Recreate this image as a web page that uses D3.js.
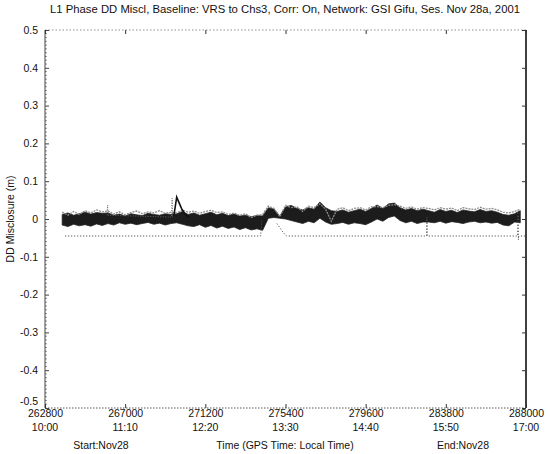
<!DOCTYPE html>
<html><head><meta charset="utf-8">
<script src="https://cdn.jsdelivr.net/npm/d3@7"></script>
<style>body{margin:0;background:#fff}svg{display:block}text{font-family:"Liberation Sans",Arial,sans-serif;fill:#111}</style>
</head><body>
<script>
const title = "L1 Phase DD Miscl, Baseline: VRS to Chs3, Corr: On, Network: GSI Gifu, Ses. Nov 28a, 2001";
const xTicks = [262800, 267000, 271200, 275400, 279600, 283800, 288000];
const xTimeLabels = ["10:00", "11:10", "12:20", "13:30", "14:40", "15:50", "17:00"];
const yTicks = [0.5, 0.4, 0.3, 0.2, 0.1, 0, -0.1, -0.2, -0.3, -0.4, -0.5];
const yTickLabels = ["0.5", "0.4", "0.3", "0.2", "0.1", "0", "-0.1", "-0.2", "-0.3", "-0.4", "-0.5"];
// sample times (s) of the main misclosure band
const bandTimes = [263700,264000,264300,264600,264900,265200,265500,265800,266100,266400,266700,267000,267300,267600,267900,268200,268500,268800,269100,269400,269700,270000,270300,270600,270900,271200,271500,271800,272100,272400,272700,273000,273300,273600,273900,274200,274500,274800,275100,275400,275700,276000,276300,276600,276900,277200,277500,277800,278100,278400,278700,279000,279300,279600,279900,280200,280500,280800,281100,281400,281700,282000,282300,282600,282900,283200,283500,283800,284100,284400,284700,285000,285300,285600,285900,286200,286500,286800,287100,287400,287700];
const bandHigh = [0.012,0.016,0.010,0.014,0.018,0.013,0.017,0.015,0.016,0.010,0.013,0.008,0.014,0.011,0.009,0.015,0.012,0.010,0.014,0.012,0.014,0.020,0.012,0.016,0.010,0.014,0.018,0.011,0.015,0.009,0.013,0.008,0.010,0.006,0.009,0.008,0.030,0.026,0.008,0.032,0.036,0.028,0.024,0.030,0.026,0.045,0.030,0.022,0.020,0.024,0.018,0.022,0.026,0.020,0.028,0.037,0.028,0.040,0.042,0.030,0.024,0.028,0.022,0.026,0.022,0.018,0.025,0.020,0.023,0.017,0.024,0.021,0.019,0.025,0.020,0.022,0.018,0.012,0.010,0.014,0.022];
const bandLow = [-0.016,-0.020,-0.014,-0.018,-0.015,-0.019,-0.013,-0.017,-0.012,-0.016,-0.010,-0.014,-0.011,-0.015,-0.012,-0.009,-0.014,-0.011,-0.016,-0.012,-0.010,-0.014,-0.018,-0.020,-0.015,-0.022,-0.017,-0.024,-0.019,-0.025,-0.021,-0.028,-0.023,-0.029,-0.026,-0.030,0.002,0.004,0.002,0.000,-0.004,-0.008,-0.012,-0.006,-0.010,0.002,-0.008,-0.014,-0.012,-0.009,-0.014,-0.010,-0.012,-0.015,-0.008,0.000,-0.006,0.004,0.008,-0.004,-0.010,-0.006,-0.012,-0.008,-0.008,-0.010,-0.006,-0.011,-0.007,-0.009,-0.012,-0.008,-0.006,-0.010,-0.008,-0.011,-0.009,-0.016,-0.018,-0.008,-0.010];
const grayVals = [0.018,0.010,0.020,0.012,0.022,0.016,0.024,0.019,0.021,0.013,0.019,0.011,0.017,0.021,0.014,0.019,0.016,0.022,0.015,0.018,0.016,0.024,0.018,0.021,0.015,0.020,0.023,0.017,0.019,0.012,0.016,0.010,0.014,0.004,0.010,0.012,0.034,0.028,0.006,0.036,0.030,0.032,0.020,0.034,0.030,0.040,0.026,-0.006,0.026,0.030,0.022,0.028,0.030,0.024,0.032,0.033,0.030,0.036,0.038,0.034,0.028,0.032,0.026,0.030,0.028,0.024,0.030,0.026,0.029,0.022,0.030,0.027,0.025,0.031,0.026,0.028,0.024,0.018,0.016,0.020,0.026];
// short excursions of the black series
const spikeTimes = [269550, 269700, 269800, 269950, 270150, 270350];
const spikeVals = [0.008, 0.058, 0.046, 0.028, 0.012, 0.004];
// gray dotted excursions
const graySpikeTimes = [266050, 266080, 266110, 269430, 269460, 269490];
const graySpikeVals = [0.010, 0.037, 0.010, 0.005, 0.055, 0.005];
// dotted reference series (null = gap)
const dotTimes = [263850, 274100, 274160, 274400, 274950, 275270, 275450, 282790, 282810, 282830, 287560, 287580, 287600, 287620, 288000];
const dotVals = [-0.045, -0.045, 0.000, null, -0.012, -0.035, -0.045, -0.045, 0.005, -0.045, -0.045, 0.015, -0.055, -0.045, -0.045];

const W = 550, H = 454;
const m = {left: 45, right: 526, top: 30, bottom: 408};
const FONT = "Liberation Sans, Arial, sans-serif";
const svg = d3.select("body").append("svg").attr("width", W).attr("height", H);
const x = d3.scaleLinear().domain([262800, 288000]).range([m.left, m.right]);
const y = d3.scaleLinear().domain([-0.5, 0.5]).range([m.bottom, m.top]);

// title
svg.append("text").attr("x", 285).attr("y", 13).attr("text-anchor", "middle")
  .attr("font-size", 10.5).attr("textLength", 470).attr("lengthAdjust", "spacingAndGlyphs").text(title);

// frame
const fr = svg.append("g");
fr.append("line").attr("x1", m.left).attr("x2", m.left).attr("y1", m.top).attr("y2", m.bottom).attr("stroke", "#444").attr("stroke-width", 1);
fr.append("line").attr("x1", m.right).attr("x2", m.right).attr("y1", m.top).attr("y2", m.bottom).attr("stroke", "#111").attr("stroke-width", 1.6);
fr.append("line").attr("x1", m.left).attr("x2", m.right).attr("y1", m.top).attr("y2", m.top).attr("stroke", "#777").attr("stroke-width", 0.8).attr("stroke-dasharray", "1.5,2");
fr.append("line").attr("x1", m.left).attr("x2", m.right).attr("y1", m.bottom).attr("y2", m.bottom).attr("stroke", "#555").attr("stroke-width", 1).attr("stroke-dasharray", "1.5,1.5");

// axes
const yAxis = d3.axisLeft(y).tickValues(yTicks).tickSize(-4).tickPadding(7)
  .tickFormat((d, i) => yTickLabels[i]);
const gy = svg.append("g").attr("transform", `translate(${m.left},0)`).call(yAxis);
gy.select(".domain").remove();
gy.selectAll("line").attr("stroke", "#444");
gy.selectAll("text").attr("font-size", 10.5).attr("font-family", FONT).attr("fill", "#111")
  .attr("dy", d => d === -0.5 ? "-0.3em" : "0.32em");
// minor ticks
const minor = d3.range(-50, 51).map(k => k / 100).filter(v => Math.abs(Math.round(v * 10) - v * 10) > 1e-6);
svg.append("g").selectAll("line").data(minor).join("line")
  .attr("x1", m.left).attr("x2", m.left + 1.8).attr("y1", d => y(d)).attr("y2", d => y(d))
  .attr("stroke", "#555").attr("stroke-width", 0.8);
// right ticks
const gyr = svg.append("g").attr("transform", `translate(${m.right},0)`).call(d3.axisRight(y).tickValues(yTicks).tickSize(-4).tickFormat(""));
gyr.select(".domain").remove(); gyr.selectAll("line").attr("stroke", "#333");

const xAxis = d3.axisBottom(x).tickValues(xTicks).tickSize(-4).tickFormat(d3.format("d"));
const gx = svg.append("g").attr("transform", `translate(0,${m.bottom})`).call(xAxis);
gx.select(".domain").remove();
gx.selectAll("line").attr("stroke", "#333");
gx.selectAll("text").attr("font-size", 10.5).attr("font-family", FONT).attr("fill", "#111")
  .attr("y", 8.5).attr("dy", null);
const gxt = svg.append("g").attr("transform", `translate(0,${m.top})`).call(d3.axisTop(x).tickValues(xTicks).tickSize(-4).tickFormat(""));
gxt.select(".domain").remove(); gxt.selectAll("line").attr("stroke", "#333");
// time row
svg.append("g").selectAll("text").data(xTicks).join("text")
  .attr("x", d => x(d)).attr("y", 431).attr("text-anchor", "middle").attr("font-size", 10.5)
  .text((d, i) => xTimeLabels[i]);
svg.append("text").attr("x", 101).attr("y", 449).attr("text-anchor", "middle").attr("font-size", 10.5).text("Start:Nov28");
svg.append("text").attr("x", 285).attr("y", 449).attr("text-anchor", "middle").attr("font-size", 10.5).text("Time (GPS Time: Local Time)");
svg.append("text").attr("x", 463).attr("y", 449).attr("text-anchor", "middle").attr("font-size", 10.5).text("End:Nov28");
svg.append("text").attr("transform", `translate(14,${y(0)}) rotate(-90)`).attr("text-anchor", "middle")
  .attr("font-size", 10.5).text("DD Misclosure (m)");

// data
const band = bandTimes.map((t, i) => ({t, hi: bandHigh[i], lo: bandLow[i], g: grayVals[i]}));
svg.append("path").datum(band)
  .attr("d", d3.area().x(d => x(d.t)).y0(d => y(d.lo)).y1(d => y(d.hi)).curve(d3.curveLinear))
  .attr("fill", "#1c1c1c").attr("stroke", "#222").attr("stroke-width", 0.8);
svg.append("path").datum(band)
  .attr("d", d3.line().x(d => x(d.t)).y(d => y(d.g)))
  .attr("fill", "none").attr("stroke", "#8c8c8c").attr("stroke-width", 1.3).attr("stroke-dasharray", "2,1");

const spk = spikeTimes.map((t, i) => ({t, v: spikeVals[i]}));
svg.append("path").datum(spk).attr("d", d3.line().x(d => x(d.t)).y(d => y(d.v)))
  .attr("fill", "none").attr("stroke", "#111").attr("stroke-width", 1.6);
const gsp = graySpikeTimes.map((t, i) => ({t, v: graySpikeVals[i]}));
svg.append("path").datum(gsp).attr("d", d3.line().x(d => x(d.t)).y(d => y(d.v)))
  .attr("fill", "none").attr("stroke", "#666").attr("stroke-width", 1).attr("stroke-dasharray", "1,1.5");

const dots = dotTimes.map((t, i) => ({t, v: dotVals[i]}));
svg.append("path").datum(dots)
  .attr("d", d3.line().defined(d => d.v !== null).x(d => x(d.t)).y(d => y(d.v)))
  .attr("fill", "none").attr("stroke", "#555").attr("stroke-width", 1).attr("stroke-dasharray", "1.2,1.8");
</script>
</body></html>
